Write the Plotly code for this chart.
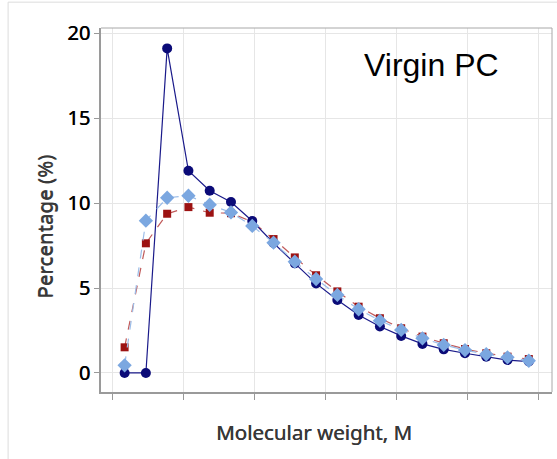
import plotly.graph_objects as go

# Data
points = list(range(1, 21))
series_navy = [0, 0, 19.1, 11.9, 10.72, 10.06, 8.94, 7.65, 6.45, 5.27, 4.29, 3.41, 2.73, 2.18, 1.71, 1.39, 1.16, 0.96, 0.76, 0.67]
series_red = [1.51, 7.63, 9.37, 9.76, 9.43, 9.4, 8.9, 7.88, 6.8, 5.75, 4.8, 3.9, 3.22, 2.63, 2.14, 1.75, 1.41, 1.16, 0.96, 0.82]
series_blue = [0.45, 8.96, 10.31, 10.43, 9.9, 9.45, 8.65, 7.67, 6.55, 5.53, 4.59, 3.75, 3.08, 2.53, 2.04, 1.65, 1.35, 1.1, 0.92, 0.72]
y_ticks = [0, 5, 10, 15, 20]
x_ticks = [0.45, 3.79, 7.12, 10.45, 13.79, 17.12, 20.45]
label_text = "Virgin PC"
x_title = "Molecular weight, M"
y_title = "Percentage (%)"

FONT = "Noto Sans"

fig = go.Figure()
fig.add_trace(go.Scatter(
    x=points, y=series_red, mode="lines+markers",
    line=dict(color="#c05a5a", width=1.2, dash="dash"),
    marker=dict(symbol="square", size=8, color="#9c1212"),
    showlegend=False))
fig.add_trace(go.Scatter(
    x=points, y=series_navy, mode="lines+markers",
    line=dict(color="#1a1a8a", width=1.2),
    marker=dict(symbol="circle", size=10, color="#0b0b78"),
    showlegend=False))
fig.add_trace(go.Scatter(
    x=points, y=series_blue, mode="lines+markers",
    line=dict(color="#9cbde8", width=1.2, dash="dash"),
    marker=dict(symbol="diamond", size=11, color="#7ba7e0"),
    showlegend=False))

fig.update_layout(
    width=557, height=459,
    margin=dict(l=101, r=5, t=28, b=67),
    paper_bgcolor="white", plot_bgcolor="white",
    font=dict(family=FONT, color="black"),
    xaxis=dict(
        range=[-0.11, 21.09], tickvals=x_ticks, ticktext=[""] * len(x_ticks),
        ticks="outside", ticklen=6, tickcolor="#999999",
        showgrid=True, gridcolor="#e6e6e6", gridwidth=1,
        showline=True, linecolor="#9a9a9a", linewidth=1.5, mirror=False,
        zeroline=False),
    yaxis=dict(
        range=[-1.12, 20.3], tickvals=y_ticks,
        ticks="outside", ticklen=5, tickcolor="#999999",
        tickfont=dict(size=20, family=FONT, color="black", shadow="0.4px 0 0 black"),
        showgrid=True, gridcolor="#e6e6e6", gridwidth=1,
        showline=True, linecolor="#9a9a9a", linewidth=1.5, mirror=False,
        zeroline=False),
)

# light frame on top/right of the plot area
fig.add_shape(type="line", xref="paper", yref="paper", x0=0, x1=1, y0=1, y1=1,
              line=dict(color="#a8a8a8", width=1))
fig.add_shape(type="line", xref="paper", yref="paper", x0=1, x1=1, y0=0, y1=1,
              line=dict(color="#a8a8a8", width=1))
# outer light border
fig.add_shape(type="rect", xref="paper", yref="paper", x0=-0.206, x1=1.2, y0=-0.4, y1=1.071,
              line=dict(color="#dcdcdc", width=1), layer="below")

fig.add_annotation(text=label_text, xref="paper", yref="paper", x=0.732, y=0.898,
                   showarrow=False, xanchor="center", yanchor="middle",
                   font=dict(family="Liberation Sans", size=32, color="black"))
fig.add_annotation(text=y_title, xref="paper", yref="paper", x=-0.124, y=0.455,
                   showarrow=False, textangle=-90, xanchor="center", yanchor="middle",
                   font=dict(family=FONT, size=20.5, color="#383838", shadow="0 -0.4px 0 #383838"))
fig.add_annotation(text=x_title, xref="paper", yref="paper", x=0.472, y=-0.11,
                   showarrow=False, xanchor="center", yanchor="middle",
                   font=dict(family=FONT, size=20.5, color="#383838", shadow="0.4px 0 0 #383838"))

fig.write_html("out.html")
